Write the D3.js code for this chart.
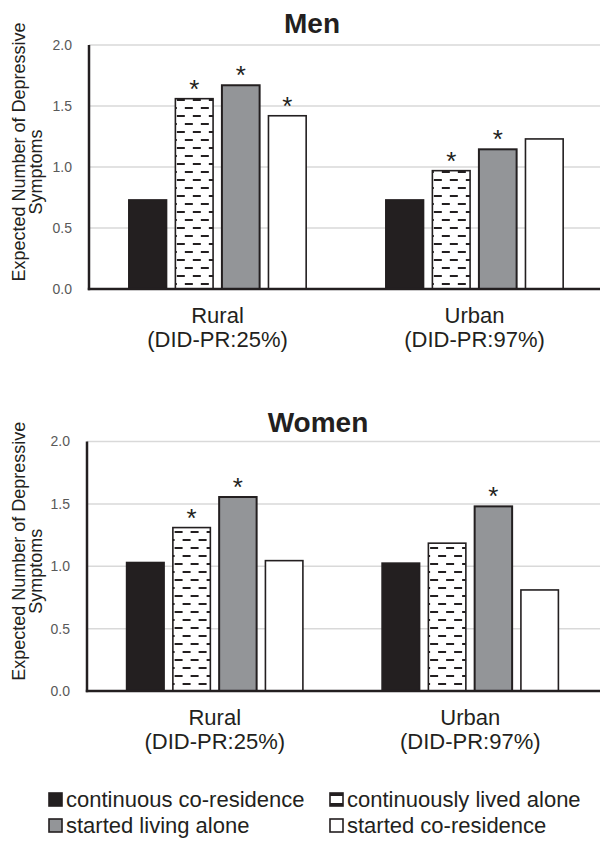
<!DOCTYPE html>
<html>
<head>
<meta charset="utf-8">
<script src="https://cdn.jsdelivr.net/npm/d3@7"></script>
<style>
  body { margin: 0; background: #fff; }
  svg { display: block; font-family: "Liberation Sans", Arial, sans-serif; }
</style>
</head>
<body>
<div id="chart"></div>
<script>
// data
var groups = ["Rural", "Urban"]
var groupNotes = ["(DID-PR:25%)", "(DID-PR:97%)"]
var series = ["continuous co-residence", "continuously lived alone", "started living alone", "started co-residence"]
var yTicks = [0, 0.5, 1.0, 1.5, 2.0]

var menRural = [0.73, 1.56, 1.67, 1.42]
var menUrban = [0.73, 0.97, 1.145, 1.23]
var menRuralSig = [0, 1, 1, 1]
var menUrbanSig = [0, 1, 1, 0]

var womenRural = [1.03, 1.31, 1.555, 1.045]
var womenUrban = [1.025, 1.185, 1.48, 0.81]
var womenRuralSig = [0, 1, 1, 0]
var womenUrbanSig = [0, 0, 1, 0]

var ink = "#231f20"
var fills = [ink, "url(#dashes)", "#939598", "#ffffff"]

var svg = d3.select("#chart").append("svg")
    .attr("width", 600)
    .attr("height", 850)

// dashed horizontal fill
var pat = svg.append("defs").append("pattern")
    .attr("id", "dashes")
    .attr("patternUnits", "userSpaceOnUse")
    .attr("width", 16).attr("height", 16)
pat.append("rect").attr("width", 16).attr("height", 16).attr("fill", "#fff")
pat.append("line").attr("x1", 0).attr("x2", 8).attr("y1", 4).attr("y2", 4)
    .attr("stroke", ink).attr("stroke-width", 2)
pat.append("line").attr("x1", 8).attr("x2", 16).attr("y1", 12).attr("y2", 12)
    .attr("stroke", ink).attr("stroke-width", 2)

var drawPanel = (cfg) => {
    var rows = groups.map((g, i) => ({
        group: g,
        note: groupNotes[i],
        values: cfg.values[i],
        sig: cfg.sig[i]
    }))

    var x = d3.scaleBand()
        .domain(groups)
        .range([cfg.left, cfg.right])
        .paddingInner(0.31)
        .paddingOuter(0.155)

    var xi = d3.scaleBand()
        .domain(d3.range(series.length))
        .range([0, x.bandwidth()])
        .paddingInner(0.19)
        .paddingOuter(0)

    var y = d3.scaleLinear()
        .domain([0, 2])
        .range([cfg.bottom, cfg.top])

    var g = svg.append("g")

    // gridlines
    g.append("g").selectAll("line")
        .data(yTicks.filter(t => t > 0)).enter()
        .append("line")
        .attr("x1", cfg.left).attr("x2", 600)
        .attr("y1", d => y(d)).attr("y2", d => y(d))
        .attr("stroke", "#d9d9d9")
        .attr("stroke-width", 1.5)

    // y axis labels
    var yAxis = d3.axisLeft(y).tickValues(yTicks).tickFormat(d3.format(".1f")).tickSize(0).tickPadding(17)
    var ya = g.append("g")
        .attr("transform", `translate(${cfg.left},0)`)
        .call(yAxis)
    ya.select(".domain").remove()
    ya.selectAll("text")
        .style("font-size", "14px")
        .style("fill", "#595959")
        .style("font-family", "Liberation Sans, Arial, sans-serif")

    // bars
    var bars = g.append("g").selectAll("g")
        .data(rows).enter()
        .append("g")
        .attr("transform", d => `translate(${x(d.group)},0)`)

    bars.selectAll("rect")
        .data(d => d.values).enter()
        .append("rect")
        .attr("x", (d, i) => xi(i))
        .attr("y", d => y(d))
        .attr("width", xi.bandwidth())
        .attr("height", d => cfg.bottom - y(d))
        .attr("fill", (d, i) => fills[i])
        .attr("stroke", ink)
        .attr("stroke-width", (d, i) => i == 2 ? 2 : 1.6)

    bars.selectAll("text")
        .data(d => d.values.map((v, i) => ({ v: v, i: i, s: d.sig[i] })).filter(e => e.s)).enter()
        .append("text")
        .attr("x", d => xi(d.i) + xi.bandwidth() / 2)
        .attr("y", d => y(d.v) - 1)
        .attr("text-anchor", "middle")
        .style("font-size", "26px")
        .style("fill", ink)
        .text("*")

    // axis lines
    g.append("line")
        .attr("x1", cfg.left).attr("x2", cfg.left)
        .attr("y1", y(2)).attr("y2", cfg.bottom + 1.2)
        .attr("stroke", ink).attr("stroke-width", 2.5)
    g.append("line")
        .attr("x1", cfg.left - 1.2).attr("x2", 600)
        .attr("y1", cfg.bottom).attr("y2", cfg.bottom)
        .attr("stroke", ink).attr("stroke-width", 2.5)

    // category labels
    var cat = g.append("g").selectAll("text")
        .data(rows).enter()
        .append("text")
        .attr("text-anchor", "middle")
        .style("font-size", "22px")
        .style("fill", ink)
    cat.append("tspan")
        .attr("x", d => x(d.group) + x.bandwidth() / 2)
        .attr("y", cfg.bottom + 34)
        .text(d => d.group)
    cat.append("tspan")
        .attr("x", d => x(d.group) + x.bandwidth() / 2)
        .attr("y", cfg.bottom + 58)
        .text(d => d.note)

    // title
    g.append("text")
        .attr("x", cfg.titleX)
        .attr("y", cfg.titleY)
        .attr("text-anchor", "middle")
        .style("font-size", "28px")
        .style("font-weight", "bold")
        .style("fill", ink)
        .text(cfg.title)

    // y axis title
    var mid = (cfg.top + cfg.bottom) / 2
    g.append("text")
        .attr("transform", `translate(25,${mid - 15}) rotate(-90)`)
        .attr("text-anchor", "middle")
        .style("font-size", "18px")
        .style("fill", ink)
        .text("Expected Number of Depressive")
    g.append("text")
        .attr("transform", `translate(42,${mid + 5}) rotate(-90)`)
        .attr("text-anchor", "middle")
        .style("font-size", "18px")
        .style("fill", ink)
        .text("Symptoms")
}

drawPanel({
    title: "Men", titleX: 312, titleY: 33,
    left: 89, right: 603, top: 45, bottom: 289,
    values: [menRural, menUrban], sig: [menRuralSig, menUrbanSig]
})

drawPanel({
    title: "Women", titleX: 318, titleY: 432,
    left: 87, right: 598, top: 441.5, bottom: 691,
    values: [womenRural, womenUrban], sig: [womenRuralSig, womenUrbanSig]
})

// legend
var legendPos = [[49, 807], [330, 807], [49, 833], [330, 833]]
var legend = svg.append("g").selectAll("g")
    .data(series).enter()
    .append("g")
    .attr("transform", (d, i) => `translate(${legendPos[i][0]},${legendPos[i][1]})`)

legend.append("rect")
    .attr("x", 0).attr("y", -14)
    .attr("width", 13).attr("height", 13)
    .attr("fill", (d, i) => i == 1 ? "#fff" : fills[i])
    .attr("stroke", ink)
    .attr("stroke-width", 1.6)
legend.filter((d, i) => i == 1).append("rect")
    .attr("x", 0).attr("y", -14)
    .attr("width", 13).attr("height", 3)
    .attr("fill", ink)
legend.filter((d, i) => i == 1).append("rect")
    .attr("x", 0).attr("y", -4)
    .attr("width", 13).attr("height", 3)
    .attr("fill", ink)

legend.append("text")
    .attr("x", 17)
    .attr("y", 0)
    .style("font-size", "22px")
    .style("fill", ink)
    .text(d => d)
</script>
</body>
</html>
